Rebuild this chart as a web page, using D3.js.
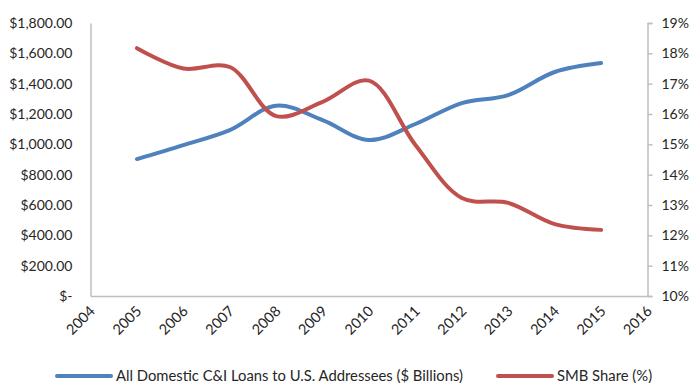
<!DOCTYPE html>
<html>
<head>
<meta charset="utf-8">
<script src="https://cdn.jsdelivr.net/npm/d3@7"></script>
<style>
  body { margin: 0; background: #fff; }
  #chart { width: 691px; height: 383px; }
  text { font-family: Lato, "Open Sans", sans-serif; fill: #262626; }
</style>
</head>
<body>
<div id="chart"></div>
<script>
  // category axis runs one year wider than the data on each side
  const years = [2004, 2005, 2006, 2007, 2008, 2009, 2010, 2011, 2012, 2013, 2014, 2015, 2016];
  const dataYears = [2005, 2006, 2007, 2008, 2009, 2010, 2011, 2012, 2013, 2014, 2015];
  const loans = [903, 995, 1094, 1255, 1160, 1028, 1134, 1272, 1325, 1477, 1536];
  const smbShare = [18.17, 17.5, 17.55, 15.93, 16.4, 17.1, 14.98, 13.23, 13.07, 12.37, 12.18];
  const leftTicks = [0, 200, 400, 600, 800, 1000, 1200, 1400, 1600, 1800];
  const rightTicks = [10, 11, 12, 13, 14, 15, 16, 17, 18, 19];
  const seriesNames = ["All Domestic C&I Loans to U.S. Addressees ($ Billions)", "SMB Share (%)"];

  let w = 691, h = 383;
  let m = {left: 90.5, right: 43.5, top: 23, bottom: 87};

  var svg = d3.select("#chart").append("svg")
      .attr("width", w)
      .attr("height", h);

  var x = d3.scalePoint().domain(years).range([m.left, w - m.right]);
  var yL = d3.scaleLinear().domain([0, 1800]).range([h - m.bottom, m.top]);
  var yR = d3.scaleLinear().domain([10, 19]).range([h - m.bottom, m.top]);

  let axisColor = "#bfbfbf";

  // left axis
  var gl = svg.append("g")
    .attr("transform", "translate(" + m.left + ",0)")
    .call(d3.axisLeft(yL).tickValues(leftTicks).tickSize(0).tickPadding(18)
      .tickFormat(d => d === 0 ? "$-" : "$" + d3.format(",.2f")(d)));
  gl.select(".domain").attr("stroke", axisColor).attr("stroke-width", 1.5);
  gl.selectAll("text").attr("font-size", 14).attr("font-family", "Lato").attr("fill", "#262626");

  // right axis
  var gr = svg.append("g")
    .attr("transform", "translate(" + (w - m.right) + ",0)")
    .call(d3.axisRight(yR).tickValues(rightTicks).tickSize(5).tickSizeOuter(5).tickPadding(9)
      .tickFormat(d => d + "%"));
  gr.select(".domain").attr("stroke", axisColor).attr("stroke-width", 1.5);
  gr.selectAll("line").attr("stroke", axisColor).attr("stroke-width", 1.5);
  gr.selectAll("text").attr("font-size", 14).attr("font-family", "Lato").attr("fill", "#262626");

  // bottom axis
  var gb = svg.append("g")
    .attr("transform", "translate(0," + (h - m.bottom) + ")")
    .call(d3.axisBottom(x).tickSize(0).tickPadding(0));
  gb.select(".domain").attr("stroke", axisColor).attr("stroke-width", 1.5);
  gb.selectAll("text")
    .attr("font-size", 14.5).attr("font-family", "Lato").attr("fill", "#262626")
    .attr("text-anchor", "end")
    .attr("dy", 0)
    .attr("transform", "translate(5,16) rotate(-45)");

  var lineL = d3.line()
    .x((d, i) => x(dataYears[i]))
    .y(d => yL(d))
    .curve(d3.curveCatmullRom);
  var lineR = d3.line()
    .x((d, i) => x(dataYears[i]))
    .y(d => yR(d))
    .curve(d3.curveCatmullRom);

  svg.append("path")
    .attr("d", lineL(loans))
    .attr("fill", "none")
    .attr("stroke", "#4f81bd")
    .attr("stroke-width", 4)
    .attr("stroke-linecap", "round");
  svg.append("path")
    .attr("d", lineR(smbShare))
    .attr("fill", "none")
    .attr("stroke", "#c0504d")
    .attr("stroke-width", 4)
    .attr("stroke-linecap", "round");

  // legend
  let legendY = 376;
  let legendItems = [
    {name: seriesNames[0], color: "#4f81bd", x0: 57},
    {name: seriesNames[1], color: "#c0504d", x0: 498}
  ];
  var lg = svg.append("g");
  legendItems.forEach(function(d) {
    lg.append("line")
      .attr("x1", d.x0).attr("x2", d.x0 + 54)
      .attr("y1", legendY).attr("y2", legendY)
      .attr("stroke", d.color).attr("stroke-width", 4)
      .attr("stroke-linecap", "round");
    lg.append("text")
      .attr("x", d.x0 + 59).attr("y", legendY)
      .attr("dy", "0.35em")
      .attr("font-size", 14.8)
      .text(d.name);
  });
</script>
</body>
</html>
